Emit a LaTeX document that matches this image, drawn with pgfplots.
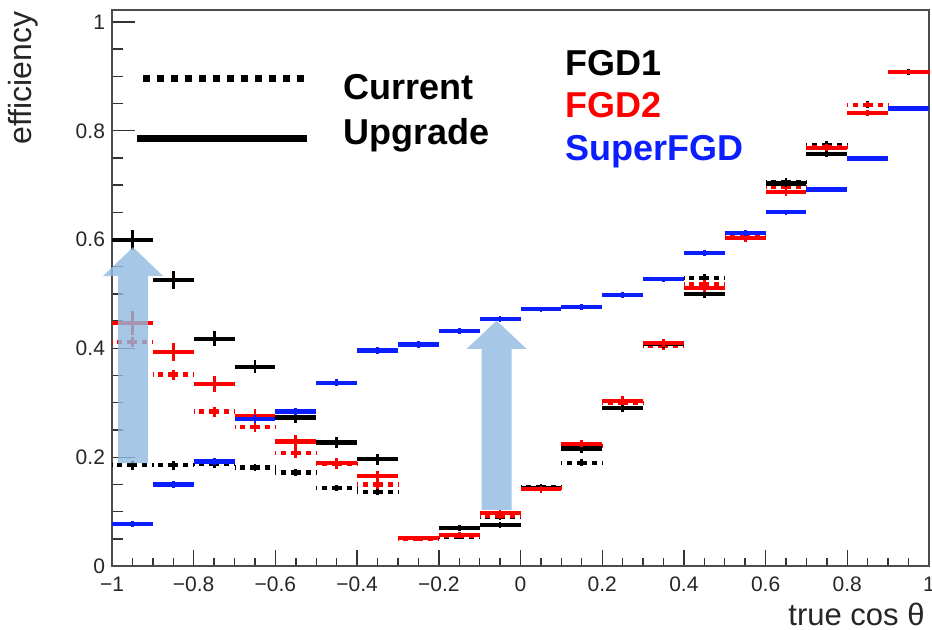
\documentclass[border=0pt]{standalone}
\usepackage{fontspec}
\setmainfont{Liberation Sans}
\usepackage{pgfplots}
\pgfplotsset{compat=1.18}
\usepackage{pgfplotstable}
\definecolor{rblue}{RGB}{10,30,255}
\definecolor{rred}{RGB}{255,0,0}
\definecolor{arrowblue}{RGB}{144,185,224}

\pgfplotstableread{
x k ke kd kde r re rd rde b be
-0.95 0.599 0.018 0.185 0.008 0.447 0.022 0.412 0.014 0.077 0.006
-0.85 0.526 0.016 0.185 0.008 0.393 0.017 0.352 0.012 0.150 0.007
-0.75 0.418 0.014 0.188 0.007 0.335 0.015 0.284 0.011 0.192 0.007
-0.65 0.366 0.012 0.181 0.007 0.276 0.012 0.256 0.010 0.270 0.007
-0.55 0.273 0.011 0.172 0.006 0.229 0.012 0.207 0.010 0.284 0.007
-0.45 0.227 0.010 0.143 0.006 0.189 0.010 0.187 0.009 0.337 0.006
-0.35 0.196 0.010 0.136 0.006 0.165 0.010 0.150 0.009 0.396 0.006
-0.25 0.051 0.004 0.050 0.004 0.051 0.004 0.050 0.004 0.407 0.006
-0.15 0.070 0.005 0.053 0.004 0.057 0.005 0.056 0.004 0.432 0.006
-0.05 0.075 0.005 0.090 0.005 0.097 0.006 0.092 0.005 0.454 0.005
0.05 0.143 0.006 0.145 0.006 0.141 0.006 0.143 0.006 0.472 0.005
0.15 0.216 0.008 0.190 0.007 0.225 0.007 0.220 0.007 0.476 0.005
0.25 0.291 0.008 0.300 0.008 0.304 0.008 0.300 0.008 0.498 0.005
0.35 0.408 0.008 0.405 0.008 0.410 0.008 0.405 0.008 0.527 0.005
0.45 0.500 0.008 0.529 0.008 0.511 0.008 0.518 0.008 0.575 0.005
0.55 0.603 0.008 0.606 0.008 0.603 0.008 0.606 0.008 0.612 0.005
0.65 0.703 0.007 0.706 0.007 0.687 0.007 0.697 0.007 0.650 0.005
0.75 0.758 0.007 0.774 0.007 0.768 0.006 0.770 0.006 0.692 0.005
0.85 0.833 0.006 0.848 0.006 0.833 0.005 0.848 0.005 0.749 0.004
0.95 0.908 0.005 0.908 0.005 0.908 0.004 0.908 0.004 0.841 0.004
}\data

\newcommand{\hist}[4]{%
\addplot[#1, only marks, mark=*, mark options={opacity=0}, forget plot, error bars/.cd, x dir=both, x fixed=0.05, error mark=none, error bar style={#1, line width=2.1pt, #4}] table[x=x,y=#2]{\data};
\addplot[#1, only marks, mark=*, mark options={opacity=0}, forget plot, error bars/.cd, y dir=both, y explicit, error mark=none, error bar style={#1, line width=1.4pt, #4}] table[x=x,y=#2,y error=#3]{\data};
}

\begin{document}
\begin{tikzpicture}
\useasboundingbox (-56pt,-31.5pt) rectangle (410pt,283pt);
\begin{axis}[
  at={(0,0)}, anchor=south west,
  scale only axis, width=408.5pt, height=278pt,
  xmin=-1, xmax=1, ymin=0, ymax=1.022,
  clip=false,
  axis line style={black!70, line width=0.9pt},
  tick align=inside, tick pos=left,
  xtick={-1,-0.8,-0.6,-0.4,-0.2,0,0.2,0.4,0.6,0.8,1},
  xticklabels={−1,−0.8,−0.6,−0.4,−0.2,0,0.2,0.4,0.6,0.8,1},
  ytick={0,0.2,0.4,0.6,0.8,1},
  yticklabels={0,0.2,0.4,0.6,0.8,1},
  minor x tick num=3, minor y tick num=3,
  xtick style={black!80, line width=0.7pt, /pgfplots/major tick length=8pt, /pgfplots/minor tick length=4pt},
  ytick style={black!80, line width=0.7pt, /pgfplots/major tick length=11.5pt, /pgfplots/minor tick length=5.75pt},
  ticklabel style={font=\fontsize{10.5}{12}\selectfont, black!85},
  xticklabel style={yshift=-2pt},
  /pgf/number format/assume math mode=true,
]
\hist{black}{kd}{kde}{dash pattern=on 2.5pt off 2.5pt}
\hist{rred}{rd}{rde}{dash pattern=on 2.5pt off 2.5pt}
\hist{black}{k}{ke}{solid}
\hist{rred}{r}{re}{solid}
\hist{rblue}{b}{be}{solid}

% arrows
\fill[arrowblue, opacity=0.8] (axis cs:-0.985,0.189) -- (axis cs:-0.912,0.189) -- (axis cs:-0.912,0.533) -- (axis cs:-0.875,0.533) -- (axis cs:-0.9485,0.586) -- (axis cs:-1.022,0.533) -- (axis cs:-0.985,0.533) -- cycle;
\fill[arrowblue, opacity=0.8] (axis cs:-0.095,0.103) -- (axis cs:-0.022,0.103) -- (axis cs:-0.022,0.399) -- (axis cs:0.015,0.399) -- (axis cs:-0.0585,0.451) -- (axis cs:-0.132,0.399) -- (axis cs:-0.095,0.399) -- cycle;

% legend
\draw[black, line width=3.5pt, dash pattern=on 3.5pt off 3.5pt] (axis cs:-0.924,0.897) -- (axis cs:-0.513,0.897);
\draw[black, line width=3.5pt] (axis cs:-0.939,0.785) -- (axis cs:-0.523,0.785);
\node[anchor=base west, font=\fontsize{18}{20}\selectfont\bfseries, inner sep=0pt] at (axis cs:-0.435,0.857) {Current};
\node[anchor=base west, font=\fontsize{18}{20}\selectfont\bfseries, inner sep=0pt] at (axis cs:-0.435,0.774) {Upgrade};
\node[anchor=base west, font=\fontsize{18}{20}\selectfont\bfseries, inner sep=0pt, black] at (axis cs:0.108,0.901) {FGD1};
\node[anchor=base west, font=\fontsize{18}{20}\selectfont\bfseries, inner sep=0pt, rred] at (axis cs:0.108,0.824) {FGD2};
\node[anchor=base west, font=\fontsize{18}{20}\selectfont\bfseries, inner sep=0pt, rblue] at (axis cs:0.108,0.746) {SuperFGD};

% axis labels
\node[anchor=base east, inner sep=0pt, font=\fontsize{15.5}{18}\selectfont, black!85, xshift=-2pt, yshift=-29.5pt] at (rel axis cs:1,0) {true cos θ};
\node[xshift=-40pt, yshift=-0.5pt, rotate=90, anchor=base east, inner sep=0pt, font=\fontsize{16}{18}\selectfont, black!85] at (rel axis cs:0,1) {efficiency};
\end{axis}
\end{tikzpicture}
\end{document}
